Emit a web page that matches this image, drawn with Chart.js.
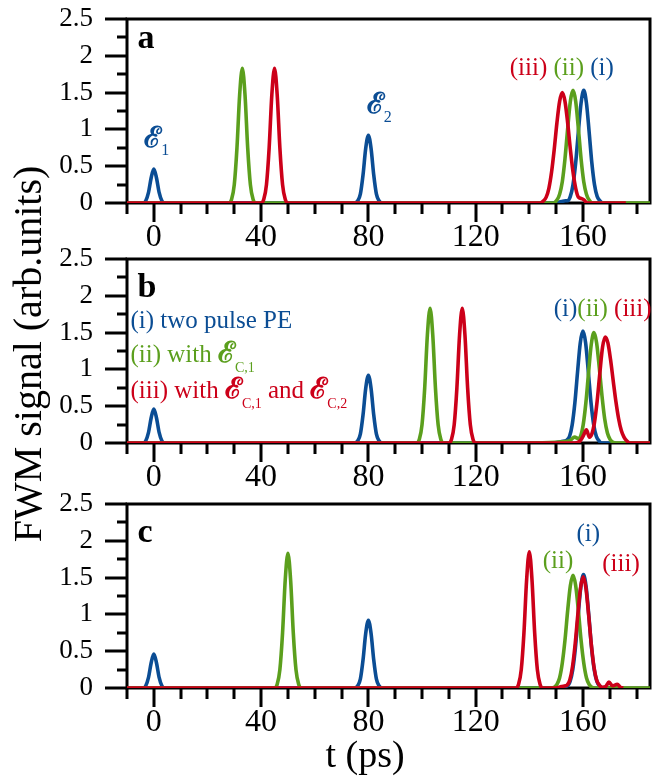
<!DOCTYPE html>
<html>
<head>
<meta charset="utf-8">
<script src="https://cdn.jsdelivr.net/npm/chart.js@4.4.0/dist/chart.umd.min.js"></script>
<style>
  body { margin: 0; background: #fff; width: 657px; height: 777px; position: relative; overflow: hidden; }
  canvas { position: absolute; left: 0; }
  .title { position: absolute; font-family: "Liberation Serif", serif; color: #000; white-space: nowrap; text-align: center; }
  #ytitle { font-size: 40px; line-height: 40px; width: 420px; left: -182px; top: 334px; transform: rotate(-90deg); }
  #xtitle { font-size: 38px; line-height: 38px; width: 200px; left: 265px; top: 735px; }
</style>
</head>
<body>
<canvas id="panelA" width="657" height="250" style="top:0px"></canvas>
<canvas id="panelB" width="657" height="250" style="top:240px"></canvas>
<canvas id="panelC" width="657" height="250" style="top:485px"></canvas>
<div class="title" id="ytitle">FWM signal (arb.units)</div>
<div class="title" id="xtitle">t (ps)</div>
<script>
// axis ticks
const xTicks = [-10, 0, 10, 20, 30, 40, 50, 60, 70, 80, 90, 100, 110, 120, 130, 140, 150, 160, 170, 180];
const xTickLabels = [0, 40, 80, 120, 160];
const yTicks = [0, 0.25, 0.5, 0.75, 1, 1.25, 1.5, 1.75, 2, 2.25, 2.5];
const yTickLabels = [0, 0.5, 1, 1.5, 2, 2.5];

// panel a: [t (ps), signal]
const aBlue = [[-10,0],[-4,0],[-3,.03],[-2,.14],[-1,.34],[0,.46],[1,.34],[2,.14],[3,.03],[4,0],
  [75,0],[76,.03],[77,.12],[78,.38],[79,.74],[80,.92],[81,.74],[82,.38],[83,.12],[84,.03],[85,0],
  [149,0],[152,.02],[153.5,.03],[154.3,.03],[155.3,.09],[156.3,.25],[157.3,.55],[158.3,.97],[159.3,1.36],[160.3,1.53],
  [161.3,1.36],[162.3,.97],[163.3,.55],[164.3,.25],[165.3,.09],[166.3,.03],[167.5,0],[172,0]];
const aGreen = [[-10,0],[28,0],[29,.05],[30,.25],[31,.75],[32,1.47],[33,1.83],[34,1.47],[35,.75],[36,.25],[37,.05],[38,0],
  [149,0],[150.3,.04],[151.3,.12],[152.3,.29],[153.3,.60],[154.3,1.01],[155.3,1.38],[156.3,1.53],
  [157.3,1.38],[158.3,1.01],[159.3,.60],[160.3,.29],[161.3,.12],[162.3,.04],[163.5,0],[185,0]];
const aRed = [[-10,0],[40,0],[41,.05],[42,.25],[43,.75],[44,1.47],[45,1.83],[46,1.47],[47,.75],[48,.25],[49,.05],[50,0],
  [144,0],[145.3,.03],[146.3,.08],[147.3,.20],[148.3,.42],[149.3,.73],[150.3,1.09],[151.3,1.38],[152.3,1.50],
  [153.3,1.38],[154.3,1.09],[155.3,.73],[156.3,.42],[157.3,.20],[158.3,.08],[159.5,.06],[160.5,.04],[161.5,0],[176,0]];

// panel b
const bBlue = [[-10,0],[-4,0],[-3,.03],[-2,.14],[-1,.34],[0,.46],[1,.34],[2,.14],[3,.03],[4,0],
  [75,0],[76,.03],[77,.12],[78,.38],[79,.74],[80,.92],[81,.74],[82,.38],[83,.12],[84,.03],[85,0],
  [148,0],[152,.02],[154,.04],[155,.09],[156,.25],[157,.55],[158,.97],[159,1.36],[160,1.52],
  [161,1.36],[162,.97],[163,.55],[164,.25],[165,.09],[166,.03],[167,0],[172,0]];
const bGreen = [[-10,0],[98,0],[99,.05],[100,.25],[101,.75],[102,1.47],[103,1.83],[104,1.47],[105,.75],[106,.25],[107,.05],[108,0],
  [140,0],[150,.01],[155,.03],[156.9,.08],[158.3,.06],[159.1,.09],[160.1,.25],[161.1,.55],[162.1,.96],[163.1,1.34],[164.1,1.50],
  [165.1,1.36],[166.1,1.02],[167.1,.64],[168.1,.33],[169.1,.14],[170.1,.05],[171.2,.01],[172.5,0],[185,0]];
const bRed = [[-10,0],[110,0],[111,.05],[112,.25],[113,.75],[114,1.47],[115,1.83],[116,1.47],[117,.75],[118,.25],[119,.05],[120,0],
  [157,0],[159,.03],[160.3,.11],[161.3,.18],[162.4,.08],[163.3,.12],[164.3,.28],[165.3,.57],[166.3,.95],[167.3,1.30],[168.3,1.44],
  [169.3,1.36],[170.3,1.13],[171.3,.84],[172.3,.56],[173.3,.33],[174.3,.17],[175.3,.08],[176.3,.03],[177.5,0],[185,0]];

// panel c
const cBlue = [[-10,0],[-4,0],[-3,.03],[-2,.14],[-1,.34],[0,.46],[1,.34],[2,.14],[3,.03],[4,0],
  [75,0],[76,.03],[77,.12],[78,.38],[79,.74],[80,.92],[81,.74],[82,.38],[83,.12],[84,.03],[85,0],
  [149,0],[154.2,.03],[155.2,.09],[156.2,.25],[157.2,.55],[158.2,.98],[159.2,1.37],[160.2,1.54],
  [161.2,1.37],[162.2,.98],[163.2,.55],[164.2,.25],[165.2,.09],[166.2,.03],[167.5,0],[172,0]];
const cGreen = [[-10,0],[45,0],[46,.05],[47,.25],[48,.75],[49,1.47],[50,1.83],[51,1.47],[52,.75],[53,.25],[54,.05],[55,0],
  [148,0],[149.3,.01],[150.3,.05],[151.3,.14],[152.3,.34],[153.3,.65],[154.3,1.05],[155.3,1.39],[156.3,1.53],
  [157.3,1.39],[158.3,1.05],[159.3,.65],[160.3,.34],[161.3,.14],[162.3,.05],[163.3,.01],[164.5,0],[185,0]];
const cRed = [[-10,0],[135,0],[136,.05],[137,.25],[138,.75],[139,1.47],[140,1.85],[141,1.47],[142,.75],[143,.25],[144,.05],[145,0],
  [150,0],[152,.02],[153.5,.03],[154.1,.04],[155.1,.11],[156.1,.29],[157.1,.60],[158.1,1.00],[159.1,1.36],[160.1,1.51],
  [161.1,1.36],[162.1,1.00],[163.1,.60],[164.1,.29],[165.1,.11],[166.1,.04],[167.3,.01],[168.5,.02],[169.7,.08],[171,.03],
  [172.8,.05],[174,.01],[175,0]];

const blue = '#0b4d94';
const green = '#5b9f1d';
const red = '#cc0019';

const serif = '"Liberation Serif", serif';
const script = '"DejaVu Serif", serif';
const labelFont = '25px ' + serif;
const scriptFont = 'bold 29px ' + script;
const subFont = '14px ' + serif;
const letterFont = 'bold 34px ' + serif;

// text notes placed in data coordinates (t, signal); parts are drawn one after another
const notesA = [
  { t: -6.1, v: 2.106, parts: [{ text: 'a', font: letterFont, color: '#000' }] },
  { t: -3.6, v: 0.76, parts: [{ text: 'ℰ', font: scriptFont, color: blue }, { text: '1', font: '16px ' + serif, color: blue, dy: 8 }] },
  { t: 79.4, v: 1.22, parts: [{ text: 'ℰ', font: scriptFont, color: blue }, { text: '2', font: '16px ' + serif, color: blue, dy: 9 }] },
  { t: 132.7, v: 1.74, parts: [{ text: '(iii) ', font: labelFont, color: red }, { text: '(ii) ', font: labelFont, color: green }, { text: '(i)', font: labelFont, color: blue }] }
];
const notesB = [
  { t: -6.1, v: 1.98, parts: [{ text: 'b', font: letterFont, color: '#000' }] },
  { t: -8.7, v: 1.5625, parts: [{ text: '(i) two pulse PE', font: labelFont, color: blue }] },
  { t: -8.7, v: 1.105, parts: [{ text: '(ii) with ', font: labelFont, color: green }, { text: 'ℰ', font: scriptFont, color: green }, { text: 'C,1', font: subFont, color: green, dy: 10 }] },
  { t: -8.7, v: 0.607, parts: [{ text: '(iii) with ', font: labelFont, color: red }, { text: 'ℰ', font: scriptFont, color: red }, { text: 'C,1', font: subFont, color: red, dy: 10 },
    { text: ' and ', font: labelFont, color: red }, { text: 'ℰ', font: scriptFont, color: red }, { text: 'C,2', font: subFont, color: red, dy: 10 }] },
  { t: 149.1, v: 1.726, parts: [{ text: '(i)', font: labelFont, color: blue }, { text: '(ii)', font: labelFont, color: green }, { text: ' (iii)', font: labelFont, color: red }] }
];
const notesC = [
  { t: -6.1, v: 1.98, parts: [{ text: 'c', font: letterFont, color: '#000' }] },
  { t: 157.6, v: 2.0, parts: [{ text: '(i)', font: labelFont, color: blue }] },
  { t: 145, v: 1.63, parts: [{ text: '(ii)', font: labelFont, color: green }] },
  { t: 167.2, v: 1.59, parts: [{ text: '(iii)', font: labelFont, color: red }] }
];

// box around the plot and tick marks (long on labelled ticks), under the curves;
// the notes go on top afterwards
const framePlugin = {
  id: 'frame',
  beforeDatasetsDraw(chart) {
    const ctx = chart.ctx;
    const area = chart.chartArea;
    const x = chart.scales.x;
    const y = chart.scales.y;
    ctx.save();
    ctx.strokeStyle = '#000';
    ctx.lineWidth = 3;
    ctx.beginPath();
    xTicks.forEach(function (t) {
      const px = Math.round(x.getPixelForValue(t));
      const len = xTickLabels.includes(t) ? 19 : 11;
      ctx.moveTo(px, area.bottom);
      ctx.lineTo(px, area.bottom + len);
    });
    yTicks.forEach(function (v) {
      const py = Math.round(y.getPixelForValue(v));
      const len = yTickLabels.includes(v) ? 22 : 10;
      ctx.moveTo(area.left, py);
      ctx.lineTo(area.left - len, py);
    });
    ctx.stroke();
    ctx.strokeRect(area.left, area.top, area.right - area.left, area.bottom - area.top);
    ctx.restore();
  },
  afterDraw(chart) {
    const ctx = chart.ctx;
    const x = chart.scales.x;
    const y = chart.scales.y;
    ctx.save();
    ctx.textBaseline = 'alphabetic';
    ctx.textAlign = 'left';
    (chart.options.plugins.frame.notes || []).forEach(function (n) {
      let px = x.getPixelForValue(n.t);
      const py = y.getPixelForValue(n.v);
      n.parts.forEach(function (p) {
        ctx.font = p.font;
        ctx.fillStyle = p.color;
        ctx.fillText(p.text, px, py + (p.dy || 0));
        px += ctx.measureText(p.text).width;
      });
    });
    ctx.restore();
  }
};

// no extra room for labels that stick out: the plot box is fixed
noPadding = function (scale) {
  scale.paddingTop = 0;
  scale.paddingBottom = 0;
  scale.paddingLeft = 0;
  scale.paddingRight = 0;
}

makeChart = function (id, blueData, greenData, redData, notes) {
  const line = function (data, color) {
    return { data: data, borderColor: color, borderWidth: 3.6, pointRadius: 0, fill: false, cubicInterpolationMode: 'monotone' };
  };
  return new Chart(document.getElementById(id), {
    type: 'line',
    data: {
      // first dataset is painted last, so red ends up on top
      datasets: [line(redData, red), line(greenData, green), line(blueData, blue)]
    },
    options: {
      responsive: false,
      animation: false,
      devicePixelRatio: 1,
      layout: { padding: { top: 19, right: 7, left: 0, bottom: 0 } },
      plugins: { legend: { display: false }, tooltip: { enabled: false }, frame: { notes: notes } },
      scales: {
        x: {
          type: 'linear', min: -10, max: 185,
          afterBuildTicks: function (scale) { scale.ticks = xTickLabels.map(function (v) { return { value: v }; }); },
          afterFit: function (scale) { scale.height = 47; noPadding(scale); },
          grid: { display: false, drawTicks: false },
          border: { display: false },
          ticks: { autoSkip: false, maxRotation: 0, padding: 15, color: '#000', font: { family: 'Liberation Serif', size: 32 } }
        },
        y: {
          type: 'linear', min: 0, max: 2.5,
          afterBuildTicks: function (scale) { scale.ticks = yTickLabels.map(function (v) { return { value: v }; }); },
          afterFit: function (scale) { scale.width = 127; noPadding(scale); },
          grid: { display: false, drawTicks: false },
          border: { display: false },
          ticks: { autoSkip: false, padding: 34, color: '#000', font: { family: 'Liberation Serif', size: 27 },
            callback: function (v) { return String(v); } }
        }
      }
    },
    plugins: [framePlugin]
  });
}

makeChart('panelA', aBlue, aGreen, aRed, notesA);
makeChart('panelB', bBlue, bGreen, bRed, notesB);
makeChart('panelC', cBlue, cGreen, cRed, notesC);
</script>
</body>
</html>
